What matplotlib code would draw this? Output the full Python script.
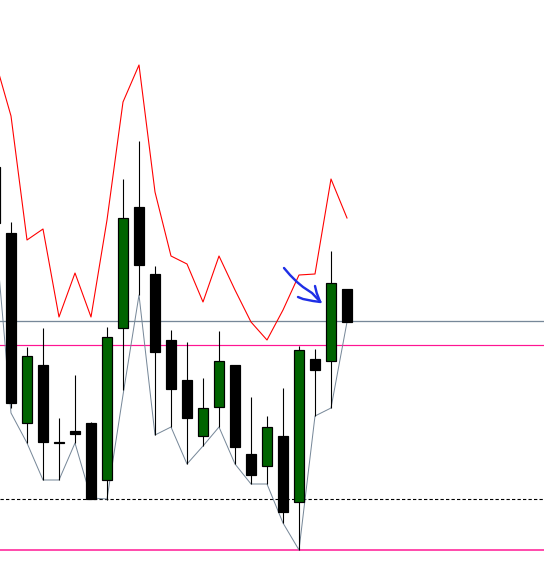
import matplotlib
matplotlib.use("Agg")
import matplotlib.pyplot as plt
import numpy as np

# Price values (screen-derived units, higher = higher price)
BASE = 600
opens_px  = [167, 233, 423, 365, 442, 431, 423, 479.5, 328, 207.3, 274, 340, 380, 436, 407.3, 365, 454, 465.7, 436, 502.3, 359, 360.7, 289]
highs_px  = [160, 222, 347, 328, 418, 375, 421.7, 326.7, 179, 141, 265.7, 330, 342.3, 377.7, 331, 365, 396.7, 416, 388.3, 345.7, 349.3, 251, 289]
lows_px   = [228, 408, 443, 480, 480, 443, 498.5, 500, 390, 295, 435, 426.7, 464.3, 446, 426.7, 464.3, 484.3, 484.3, 522.7, 550, 416, 407.7, 321.7]
closes_px = [223, 403, 356, 441.7, 442.5, 434, 498.5, 337.3, 218, 265, 351.7, 389.3, 417.7, 408.3, 361, 446.7, 475, 427.3, 511.7, 350, 370, 283.3, 321.7]
upper_px  = [60, 116, 240, 229, 317, 273, 317, 220, 102, 65, 192, 256, 264, 302, 256, 290, 322, 340, 310, 275, 274, 179, 218]
lower_px  = [228, 413, 443, 480, 480, 443, 498, 499, 395, 295, 435, 427, 464, 446, 427, 464, 484, 484, 523, 550, 416, 408, 322]

opens = [BASE - v for v in opens_px]
highs = [BASE - v for v in highs_px]
lows = [BASE - v for v in lows_px]
closes = [BASE - v for v in closes_px]
upper = [BASE - v for v in upper_px]
lower = [BASE - v for v in lower_px]

level_grey = BASE - 321
level_pink = BASE - 345
level_pink_low = BASE - 550
level_dashed = BASE - 499

# freehand blue arrow (pixel-derived, converted to data units)
arrow_main_px = [(284, 268), (290, 275), (297, 282), (303, 287), (312, 293), (320, 301.5)]
arrow_low_px = [(298, 297), (303, 299), (313, 301), (320.5, 302)]
arrow_up_px = [(315, 286), (316.7, 293), (320, 301.5)]

W, H = 544, 564
fig = plt.figure(figsize=(W / 100, H / 100), dpi=100)
ax = fig.add_axes([0, 0, 1, 1])
ax.set_axis_off()

n = len(opens)
xs = np.arange(n) - 1  # first candle partially visible at left edge

px = 0.72  # 1 pixel in points
ax.set_xlim(-11 / 16, (W - 11) / 16)
ax.set_ylim(BASE - H, BASE)

# horizontal levels
ax.axhline(level_grey, color="#778899", lw=1.3 * px, zorder=1)
ax.axhline(level_pink, color="#ff1493", lw=1.2 * px, zorder=1)
ax.axhline(level_pink_low, color="#ff1493", lw=1.5 * px, zorder=1)
ax.axhline(level_dashed, color="black", lw=1.1 * px, ls=(0, (3, 2)), zorder=1)

# indicator lines
ax.plot(xs, upper, color="#ff0000", lw=1.1 * px, zorder=2)
ax.plot(xs, lower, color="#778899", lw=1 * px, zorder=2)

# candles
for x, o, h, l, c in zip(xs, opens, highs, lows, closes):
    ax.vlines(x, l, h, color="black", lw=1.1 * px, zorder=3)
    bull = c > o
    face = "#006400" if bull else "black"
    bottom = min(o, c)
    height = max(abs(c - o), 0.8)
    ax.bar(x, height, bottom=bottom, width=10.5 / 16, color=face,
           edgecolor="black", linewidth=1.2 * px, zorder=4)

# blue hand-drawn arrow
def to_data(pts):
    return [((p[0] - 11) / 16, BASE - p[1]) for p in pts]

for pts in (arrow_main_px, arrow_low_px, arrow_up_px):
    d = to_data(pts)
    ax.plot([p[0] for p in d], [p[1] for p in d], color="#1f2fe6", lw=2.4 * px,
            solid_capstyle="round", solid_joinstyle="round", zorder=5)

fig.savefig("out.png", dpi=100, facecolor="white")
